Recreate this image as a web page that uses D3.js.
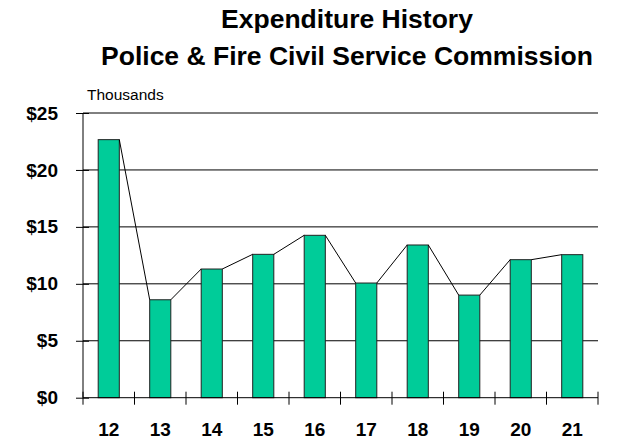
<!DOCTYPE html>
<html>
<head>
<meta charset="utf-8">
<script src="https://cdn.jsdelivr.net/npm/d3@7"></script>
<style>
  html, body { margin: 0; padding: 0; background: #fff; }
  svg { display: block; font-family: "Liberation Sans", Arial, sans-serif; }
</style>
</head>
<body>
<svg id="chart" width="622" height="443"></svg>
<script>
const categories = ["12", "13", "14", "15", "16", "17", "18", "19", "20", "21"];
const values = [22.66, 8.6, 11.3, 12.59, 14.26, 10.07, 13.41, 9.01, 12.12, 12.56];
const yTicks = [0, 5, 10, 15, 20, 25];
const titleLines = ["Expenditure History", "Police & Fire Civil Service Commission"];
const unitLabel = "Thousands";

(function () {
const svg = d3.select("#chart");
const pL = 83, pR = 598, pT = 113, pB = 397.7;

const x = d3.scaleBand().domain(categories).range([pL, pR]).paddingInner(0.59).paddingOuter(0.295);
const y = d3.scaleLinear().domain([0, 25]).range([pB, pT]);

// Title
svg.append("g").selectAll("text").data(titleLines).join("text")
  .attr("x", 347).attr("y", (d, i) => 28 + i * 37)
  .attr("text-anchor", "middle")
  .attr("font-size", 26.5).attr("font-weight", "bold").attr("fill", "#000")
  .text(d => d);

svg.append("text").attr("x", 87).attr("y", 100)
  .attr("font-size", 15.5).attr("fill", "#000").text(unitLabel);

// Gridlines
svg.append("g").selectAll("line").data(yTicks.filter(t => t > 0)).join("line")
  .attr("x1", pL).attr("x2", pR)
  .attr("y1", d => y(d)).attr("y2", d => y(d))
  .attr("stroke", "#000").attr("stroke-width", 1);

// Y axis
const yAxis = d3.axisLeft(y).tickValues(yTicks).tickSize(0).tickPadding(25)
  .tickFormat(d => "$" + d);
const gy = svg.append("g").attr("transform", `translate(${pL},0)`).call(yAxis);
gy.select(".domain").remove();
gy.selectAll("text").attr("font-size", 19).attr("font-weight", "bold").attr("fill", "#000")
  .attr("font-family", "Liberation Sans, Arial, sans-serif");
gy.selectAll(".tick").append("line").attr("x1", -7).attr("x2", 6).attr("stroke", "#000");

// Bars
svg.append("g").selectAll("rect").data(values).join("rect")
  .attr("x", (d, i) => x(categories[i]))
  .attr("y", d => y(d))
  .attr("width", x.bandwidth())
  .attr("height", d => y(0) - y(d))
  .attr("fill", "#00CC99").attr("stroke", "#222").attr("stroke-width", 1);

// Series lines
const segs = values.slice(0, -1).map((v, i) => ({
  x1: x(categories[i]) + x.bandwidth(), y1: y(v),
  x2: x(categories[i + 1]), y2: y(values[i + 1])
}));
svg.append("g").selectAll("line").data(segs).join("line")
  .attr("x1", d => d.x1).attr("y1", d => d.y1)
  .attr("x2", d => d.x2).attr("y2", d => d.y2)
  .attr("stroke", "#000").attr("stroke-width", 1);

// Axes lines
svg.append("line").attr("x1", pL).attr("x2", pL).attr("y1", pT).attr("y2", pB)
  .attr("stroke", "#000");
svg.append("line").attr("x1", pL).attr("x2", pR).attr("y1", pB).attr("y2", pB)
  .attr("stroke", "#000");

// X ticks at band boundaries
const boundaries = categories.map(c => x(c) - x.step() * x.paddingInner() / 2);
boundaries.push(pR);
boundaries[0] = pL;
svg.append("g").selectAll("line").data(boundaries).join("line")
  .attr("x1", d => d).attr("x2", d => d)
  .attr("y1", pB - 6).attr("y2", pB + 7)
  .attr("stroke", "#000");

// X labels
const xAxis = d3.axisBottom(x).tickSize(0).tickPadding(25);
const gx = svg.append("g").attr("transform", `translate(0,${pB})`).call(xAxis);
gx.select(".domain").remove();
gx.selectAll("text").attr("font-size", 19).attr("font-weight", "bold").attr("fill", "#000")
  .attr("font-family", "Liberation Sans, Arial, sans-serif");
})();
</script>
</body>
</html>
